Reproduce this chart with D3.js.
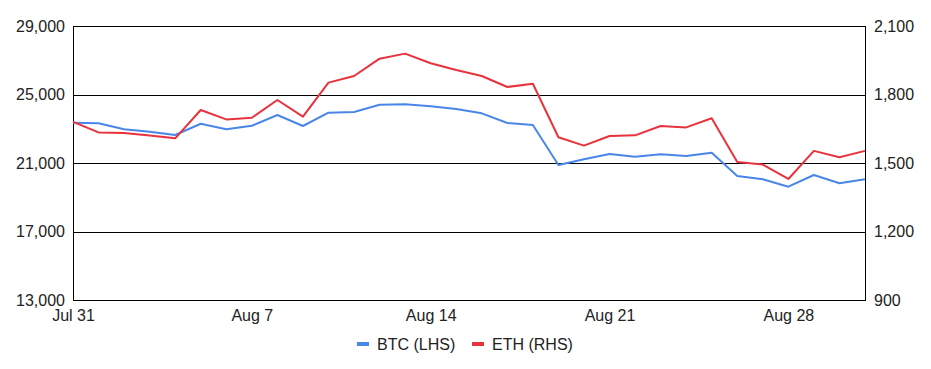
<!DOCTYPE html>
<html>
<head>
<meta charset="utf-8">
<script src="https://cdn.jsdelivr.net/npm/d3@7"></script>
<style>
  body { margin: 0; background: #fff; }
  svg text { font-family: "Liberation Sans", Arial, sans-serif; fill: #222; }
</style>
</head>
<body>
<div id="chart"></div>
<script>
// daily closes, Jul 31 .. Aug 31
var startDate = new Date(2022, 6, 31);
var btc = [23353, 23318, 22967, 22827, 22634, 23294, 22967, 23177, 23802, 23160,
           23937, 23977, 24404, 24427, 24310, 24152, 23901, 23335, 23218, 20883,
           21216, 21525, 21367, 21507, 21408, 21601, 20240, 20048, 19616, 20299,
           19814, 20048];
var eth = [1680, 1634, 1631, 1620, 1608, 1732, 1691, 1698, 1776, 1703,
           1852, 1881, 1957, 1979, 1937, 1907, 1881, 1833, 1847, 1613,
           1576, 1618, 1621, 1662, 1656, 1696, 1504, 1493, 1430, 1553,
           1525, 1553];
var leftTicks = [13000, 17000, 21000, 25000, 29000];
var rightTicks = [900, 1200, 1500, 1800, 2100];
var xTickDays = [0, 7, 14, 21, 28];
var seriesNames = ["BTC (LHS)", "ETH (RHS)"];
var colors = ["#4a86e8", "#e8323c"];

var width = 931, height = 369;
var margin = { top: 26, right: 66, bottom: 69, left: 73 };

var dates = btc.map(function(d, i) { return d3.timeDay.offset(startDate, i); });

var svg = d3.select("#chart").append("svg")
  .attr("width", width)
  .attr("height", height);

var x = d3.scaleTime()
  .domain([dates[0], dates[dates.length - 1]])
  .range([margin.left, width - margin.right]);

var yL = d3.scaleLinear()
  .domain([13000, 29000])
  .range([height - margin.bottom, margin.top]);

var yR = d3.scaleLinear()
  .domain([900, 2100])
  .range([height - margin.bottom, margin.top]);

// gridlines
svg.append("g")
  .selectAll("line")
  .data(leftTicks)
  .join("line")
  .attr("x1", margin.left)
  .attr("x2", width - margin.right)
  .attr("y1", function(d) { return Math.round(yL(d)) + 0.5; })
  .attr("y2", function(d) { return Math.round(yL(d)) + 0.5; })
  .attr("stroke", "#000")
  .attr("stroke-width", 1);

// vertical frame lines
[margin.left, width - margin.right].forEach(function(px) {
  svg.append("line")
    .attr("x1", px + 0.5).attr("x2", px + 0.5)
    .attr("y1", margin.top).attr("y2", height - margin.bottom + 1)
    .attr("stroke", "#000");
});

// left axis labels
var fmt = d3.format(",");
svg.append("g")
  .attr("transform", "translate(" + margin.left + ",0)")
  .call(d3.axisLeft(yL).tickValues(leftTicks).tickSize(0).tickPadding(8).tickFormat(fmt))
  .call(function(g) { g.select(".domain").remove(); })
  .selectAll("text")
  .style("font-size", "16px")
  .attr("fill", "#222");

// right axis labels
svg.append("g")
  .attr("transform", "translate(" + (width - margin.right) + ",0)")
  .call(d3.axisRight(yR).tickValues(rightTicks).tickSize(0).tickPadding(9).tickFormat(fmt))
  .call(function(g) { g.select(".domain").remove(); })
  .selectAll("text")
  .style("font-size", "16px")
  .attr("fill", "#222");

// x axis labels
svg.append("g")
  .attr("transform", "translate(0," + (height - margin.bottom) + ")")
  .call(d3.axisBottom(x)
    .tickValues(xTickDays.map(function(k) { return dates[k]; }))
    .tickSize(0).tickPadding(10)
    .tickFormat(d3.timeFormat("%b %-d")))
  .call(function(g) { g.select(".domain").remove(); })
  .selectAll("text")
  .style("font-size", "16px")
  .attr("fill", "#222");

// lines
var lineL = d3.line()
  .x(function(d, i) { return x(dates[i]); })
  .y(function(d) { return yL(d); });
var lineR = d3.line()
  .x(function(d, i) { return x(dates[i]); })
  .y(function(d) { return yR(d); });

svg.append("path")
  .datum(btc)
  .attr("d", lineL)
  .attr("fill", "none")
  .attr("stroke", colors[0])
  .attr("stroke-width", 2)
  .attr("stroke-linejoin", "round");

svg.append("path")
  .datum(eth)
  .attr("d", lineR)
  .attr("fill", "none")
  .attr("stroke", colors[1])
  .attr("stroke-width", 2)
  .attr("stroke-linejoin", "round");

// legend
var legend = svg.append("g").attr("transform", "translate(0,344)");
var legendX = [357, 472];
seriesNames.forEach(function(name, i) {
  legend.append("rect")
    .attr("x", legendX[i])
    .attr("y", -2)
    .attr("width", 12)
    .attr("height", 4)
    .attr("fill", colors[i]);
  legend.append("text")
    .attr("x", legendX[i] + 20)
    .attr("y", 0)
    .attr("dy", "0.35em")
    .style("font-size", "16px")
    .text(name);
});
</script>
</body>
</html>
